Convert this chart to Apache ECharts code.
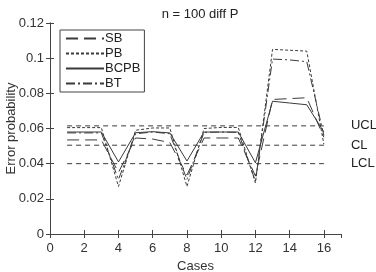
<!DOCTYPE html>
<html>
<head>
<meta charset="utf-8">
<script src="https://cdn.jsdelivr.net/npm/echarts@6/dist/echarts.min.js"></script>
<style>
  html, body { margin: 0; padding: 0; background: #fff; }
  #chart { width: 376px; height: 272px; }
</style>
</head>
<body>
<div id="chart"></div>
<script>
// values, cases 1..16
const cases = [1, 2, 3, 4, 5, 6, 7, 8, 9, 10, 11, 12, 13, 14, 15, 16];
const sb = [0.0535, 0.0535, 0.0535, 0.035, 0.0546, 0.054, 0.052, 0.0335, 0.0546, 0.0546, 0.0546, 0.033, 0.0765, 0.077, 0.0775, 0.055];
const pb = [0.0605, 0.0605, 0.0605, 0.027, 0.059, 0.0603, 0.0603, 0.027, 0.060, 0.0606, 0.0606, 0.029, 0.105, 0.1045, 0.104, 0.051];
const bcpb = [0.058, 0.058, 0.058, 0.041, 0.0576, 0.0582, 0.0575, 0.0415, 0.058, 0.058, 0.058, 0.0405, 0.0755, 0.0745, 0.0735, 0.058];
const bt = [0.0575, 0.0575, 0.0575, 0.031, 0.057, 0.058, 0.057, 0.031, 0.0578, 0.058, 0.0578, 0.030, 0.0995, 0.099, 0.098, 0.056];
const limitNames = ['UCL', 'CL', 'LCL'];
const limitValues = [0.0615, 0.0505, 0.040];
const limitRange = [1, 16];

const ink = '#3a3a3a';
const font = 'Liberation Sans, Arial, sans-serif';

function pairs(ys) {
  return cases.map((c, i) => [c, ys[i]]);
}

function curve(name, ys, dash) {
  return {
    name: name,
    type: 'line',
    data: pairs(ys),
    symbol: 'none',
    lineStyle: { color: ink, width: 1, type: dash },
    itemStyle: { color: ink },
    z: 3,
  };
}

const limitSeries = limitNames.map((name, i) => ({
  name: name,
  type: 'line',
  data: limitRange.map(x => [x, limitValues[i]]),
  symbol: 'none',
  silent: true,
  lineStyle: { color: ink, width: 1, type: [5, 4] },
  endLabel: {
    show: true,
    formatter: name,
    distance: 27,
    color: '#222',
    fontSize: 13,
    fontFamily: font,
  },
  z: 2,
}));

const axisLine = { show: true, lineStyle: { color: '#444', width: 1 } };
const tick = { show: true, inside: true, length: 4, lineStyle: { color: '#444' } };

const chart = echarts.init(document.getElementById('chart'));
chart.setOption({
  animation: false,
  textStyle: { fontFamily: font },
  title: {
    text: 'n = 100 diff P',
    left: 195,
    top: 3,
    textAlign: 'center',
    textStyle: { fontSize: 13, fontWeight: 'normal', color: '#222', fontFamily: font },
  },
  grid: { left: 50, right: 35, top: 23, bottom: 38, containLabel: false, outerBoundsMode: 'none' },
  legend: {
    data: ['SB', 'PB', 'BCPB', 'BT'],
    orient: 'vertical',
    left: 60,
    top: 30,
    padding: [2, 4, 2, 5],
    itemGap: 2,
    itemWidth: 38,
    itemHeight: 12,
    borderColor: '#444',
    borderWidth: 1,
    itemStyle: { color: 'rgba(0,0,0,0)', borderWidth: 0 },
    textStyle: { fontSize: 13, color: '#222', padding: [0, 0, 0, -4] },
  },
  xAxis: [
    {
      type: 'value', min: 0, max: 17, interval: 2, position: 'bottom',
      axisLine: axisLine, axisTick: tick, splitLine: { show: false },
      axisLabel: { showMaxLabel: false, color: '#333', fontSize: 13, margin: 8 },
      name: 'Cases', nameLocation: 'middle', nameGap: 26, nameMoveOverlap: false,
      nameTextStyle: { fontSize: 13, color: '#333' },
    },
    {
      type: 'value', min: 0, max: 17, interval: 2, position: 'top',
      axisLine: axisLine, axisTick: tick, splitLine: { show: false },
      axisLabel: { show: false },
    },
  ],
  yAxis: [
    {
      type: 'value', min: 0, max: 0.12, interval: 0.02, position: 'left',
      axisLine: axisLine, axisTick: tick, splitLine: { show: false },
      axisLabel: { color: '#333', fontSize: 13, margin: 6 },
      name: 'Error probability', nameLocation: 'middle', nameGap: 32, nameMoveOverlap: false,
      nameTextStyle: { fontSize: 13, color: '#333' },
    },
    {
      type: 'value', min: 0, max: 0.12, interval: 0.02, position: 'right',
      axisLine: axisLine, axisTick: tick, splitLine: { show: false },
      axisLabel: { show: false },
    },
  ],
  series: [
    curve('SB', sb, [12, 6]),
    curve('PB', pb, [3, 2]),
    curve('BCPB', bcpb, 'solid'),
    curve('BT', bt, [9, 3, 2, 3]),
  ].concat(limitSeries),
});
</script>
</body>
</html>
